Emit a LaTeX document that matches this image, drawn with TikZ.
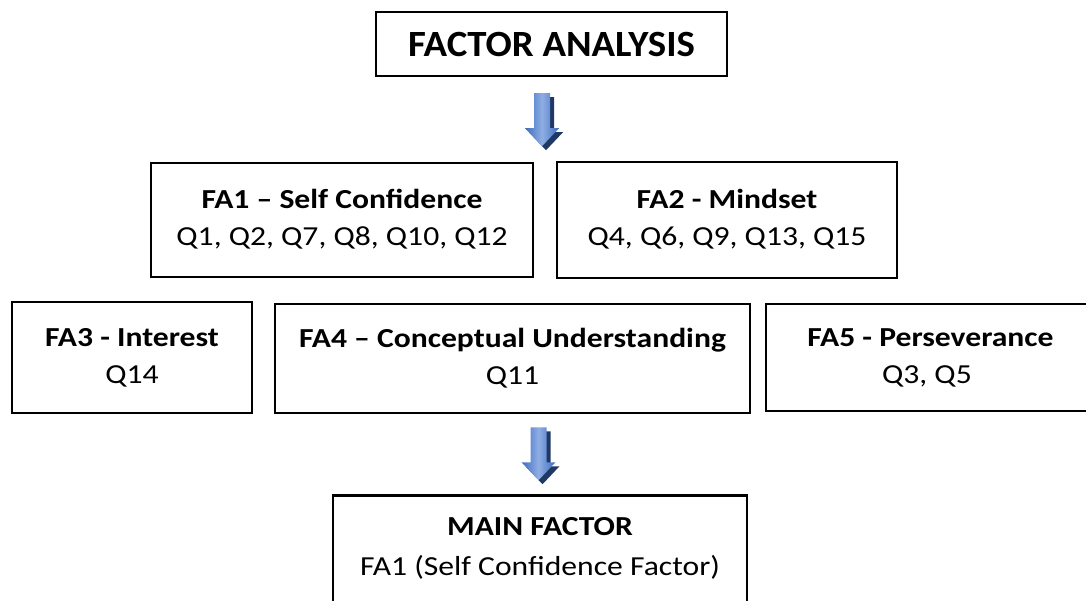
\documentclass[tikz,border=0pt]{standalone}
\usepackage{fontspec}
\setmainfont{Carlito}[FakeStretch=1.15]
\newfontfamily\headfont{Carlito}[FakeStretch=1.05]
\usetikzlibrary{positioning}
\usetikzlibrary{calc}
\definecolor{arrowblue}{HTML}{3F6CC0}
\definecolor{arrowlight}{HTML}{8FAEE3}
\definecolor{arrowdark}{HTML}{1F3864}
\tikzstyle{box}=[draw=black, line width=2.5pt, fill=white, inner sep=0pt, align=center, font=\fontsize{27.5}{37}\selectfont]
\tikzstyle{headbox}=[box, font=\headfont\bfseries\fontsize{37}{40}\selectfont]
\tikzstyle{boxtext}=[inner sep=0pt, align=center, font=\fontsize{27.5}{40}\selectfont]
\tikzstyle{shaftshadow}=[fill=arrowdark]
\tikzstyle{shaft}=[left color=arrowblue, right color=arrowblue, middle color=arrowlight]

\begin{document}
\begin{tikzpicture}[x=1pt, y=-1pt]

  \clip (0,0) rectangle (1086,601);

  \node[headbox, minimum width=351, minimum height=64] (fa) at (551.5,44) {FACTOR ANALYSIS};

  \foreach \name/\x/\y/\w/\h/\title/\items in {
      fa1/342/220/382/114/{FA1 – Self Confidence}/{Q1, Q2, Q7, Q8, Q10, Q12},
      fa2/727/220/340/116/{FA2 - Mindset}/{Q4, Q6, Q9, Q13, Q15},
      fa3/132/357.5/240/111/{FA3 - Interest}/{Q14},
      fa4/512.5/358.5/475/109/{FA4 – Conceptual Understanding}/{Q11},
      fa5/930.5/357.5/329/107/{FA5 - Perseverance}/{Q3, Q5} }
     \node[box, minimum width=\w, minimum height=\h] (\name) at (\x,\y) {\textbf{\title}\strut\\ \items\strut};

  % main factor, bottom cut off by the page
  \node[box, minimum width=414, minimum height=126, anchor=north] (main) at (540,494) {};
  \node[boxtext, anchor=north] (maintext) at ($(main.north)+(0,23)$) {\textbf{MAIN FACTOR}\\ FA1 (Self Confidence Factor)};

  % block arrows
  \coordinate (downA) at ($(fa.south)+(-9.5,16)$);
  \coordinate (downB) at ($(fa4.south)+(26,13)$);
  \foreach \t in {downA, downB} {
     \fill[shaftshadow] ($(\t)+(4,4)$) ++(-8,0) -- ++(16,0) -- ++(0,35) -- ++(9,0) -- ++(-17,18) -- ++(-17,-18) -- ++(9,0) -- cycle;
     \path[shaft] (\t) ++(-8,0) -- ++(16,0) -- ++(0,35) -- ++(9,0) -- ++(-17,18) -- ++(-17,-18) -- ++(9,0) -- cycle;
  }

\end{tikzpicture}
\end{document}
